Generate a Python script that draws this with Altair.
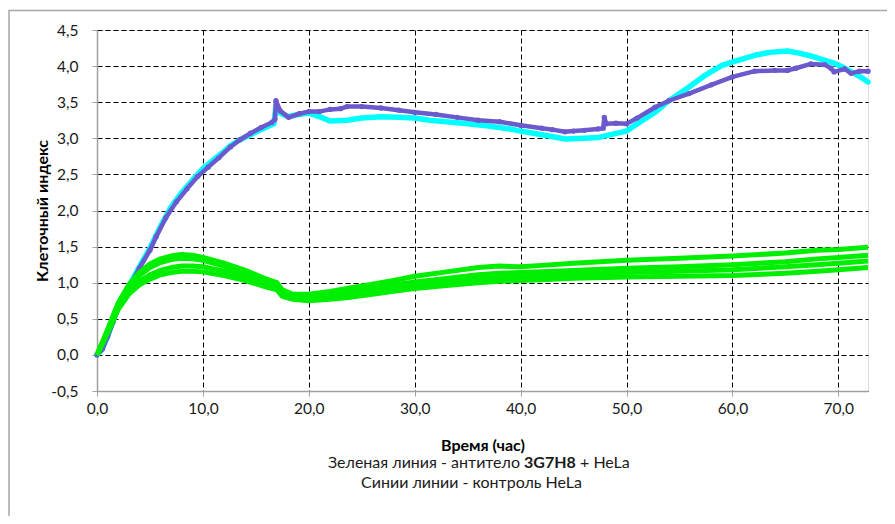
import altair as alt
import pandas as pd

# ---- data ----
purple_x = [0, 0.5, 1, 1.5, 2, 2.5, 3, 4, 5, 5.6, 6.5, 7.5, 8.5, 9.5, 10.5, 11.5, 12.6, 13.5, 14.5, 15.5,
            16.5, 16.8, 16.9, 17.3, 18.1, 19.1, 20, 21, 22, 23, 23.6, 25, 26.8, 28.5, 30, 32, 34, 36, 38, 40,
            42, 43, 44.2, 45, 46, 47.3, 47.8, 47.9, 48.1, 49, 50, 51, 52.7, 54, 55.9, 58, 60, 62.1, 64, 65.2,
            66, 67.4, 68.7, 69.3, 69.6, 70.6, 71.2, 72, 72.8]
purple_y = [0, 0.08, 0.25, 0.45, 0.65, 0.8, 0.93, 1.2, 1.45, 1.64, 1.9, 2.12, 2.3, 2.47, 2.6, 2.73, 2.88, 2.98, 3.07, 3.15,
            3.22, 3.26, 3.52, 3.38, 3.29, 3.34, 3.37, 3.37, 3.4, 3.41, 3.44, 3.44, 3.42, 3.39, 3.36, 3.33, 3.29, 3.25, 3.23, 3.18,
            3.14, 3.12, 3.09, 3.1, 3.11, 3.13, 3.14, 3.29, 3.2, 3.21, 3.2, 3.28, 3.43, 3.52, 3.62, 3.74, 3.85, 3.93, 3.94, 3.94,
            3.97, 4.03, 4.02, 3.97, 3.92, 3.96, 3.9, 3.93, 3.93]

cyan_x = [0, 0.5, 1, 1.5, 2, 2.5, 3, 4, 5, 6, 7, 8, 9, 10, 11, 12, 12.6, 13.5, 14.5, 15.5, 16.7, 16.9, 17.3,
          18, 19, 20, 21, 22, 23.6, 25, 26.8, 28.5, 30, 31.4, 33, 35, 37, 39, 40, 42, 44.2, 46, 47.3, 48.5, 50,
          51, 52.7, 54, 55.9, 57.5, 59, 60.5, 62.1, 63.5, 65.2, 66.3, 67.4, 68.5, 69.6, 70.5, 71.5, 72.3, 72.8]
cyan_y = [0, 0.08, 0.26, 0.46, 0.66, 0.82, 0.95, 1.22, 1.48, 1.78, 2.05, 2.25, 2.42, 2.58, 2.7, 2.82, 2.9, 2.98, 3.05, 3.12, 3.2, 3.45, 3.35,
          3.3, 3.33, 3.35, 3.3, 3.24, 3.25, 3.28, 3.3, 3.29, 3.28, 3.25, 3.23, 3.2, 3.17, 3.13, 3.1, 3.05, 2.99, 3.0, 3.01, 3.05, 3.1,
          3.2, 3.36, 3.52, 3.71, 3.88, 4.01, 4.08, 4.15, 4.19, 4.21, 4.18, 4.14, 4.09, 4.04, 3.98, 3.9, 3.83, 3.78]

green_x = [0, 1, 2, 3, 4, 5, 6, 7, 8, 9, 10, 12, 14, 16, 17, 17.5, 18.5, 20, 22, 24, 26, 28, 30, 33, 36, 38, 40,
           42, 45, 50, 55, 60, 65, 68, 70, 72.8]
green1_y = [0, 0.35, 0.72, 0.97, 1.14, 1.26, 1.33, 1.37, 1.39, 1.38, 1.35, 1.27, 1.17, 1.05, 1.0, 0.9, 0.84, 0.84, 0.88, 0.93, 0.98,
            1.03, 1.09, 1.15, 1.21, 1.23, 1.22, 1.24, 1.27, 1.31, 1.34, 1.37, 1.41, 1.45, 1.46, 1.49]
green2_y = [0, 0.34, 0.7, 0.94, 1.1, 1.21, 1.28, 1.32, 1.34, 1.33, 1.31, 1.23, 1.13, 1.02, 0.97, 0.87, 0.81, 0.8, 0.83, 0.87, 0.92,
            0.97, 1.01, 1.06, 1.11, 1.13, 1.14, 1.15, 1.17, 1.2, 1.22, 1.25, 1.29, 1.33, 1.35, 1.38]
green3_y = [0, 0.32, 0.66, 0.88, 1.02, 1.11, 1.17, 1.21, 1.23, 1.23, 1.22, 1.16, 1.08, 0.98, 0.93, 0.84, 0.79, 0.78, 0.8, 0.84, 0.88,
            0.92, 0.96, 1.01, 1.05, 1.07, 1.08, 1.09, 1.11, 1.14, 1.16, 1.18, 1.22, 1.25, 1.27, 1.3]
green4_y = [0, 0.3, 0.63, 0.84, 0.97, 1.05, 1.11, 1.14, 1.16, 1.16, 1.15, 1.1, 1.03, 0.94, 0.9, 0.81, 0.77, 0.75, 0.77, 0.8, 0.84,
            0.88, 0.92, 0.96, 1.0, 1.02, 1.03, 1.04, 1.06, 1.08, 1.09, 1.1, 1.13, 1.16, 1.18, 1.21]

x_ticks = [0, 10, 20, 30, 40, 50, 60, 70]
y_ticks = [-0.5, 0, 0.5, 1.0, 1.5, 2.0, 2.5, 3.0, 3.5, 4.0, 4.5]

x_title = "Время (час)"
y_title = "Клеточный индекс"
cap1_left = "Зеленая линия - антитело"
cap1_bold = "3G7H8"
cap1_right = "+ HeLa"
cap2 = "Синии линии - контроль HeLa"

FONT = "Lato"
FS = 16
LFS = 15.5
W, H = 771, 361


def frame(xs, ys, name):
    return pd.DataFrame({"t": xs, "ci": ys, "s": name, "i": range(len(xs))})


cyan_df = frame(cyan_x, cyan_y, "cyan")
purple_df = frame(purple_x, purple_y, "purple")
green_df = pd.concat([frame(green_x, g, f"g{k}") for k, g in
                      enumerate([green1_y, green2_y, green3_y, green4_y])])

xs = alt.Scale(domain=[0, 72.8], nice=False, zero=False)
ys = alt.Scale(domain=[-0.5, 4.5], nice=False, zero=False)

lab = "replace(replace(format(datum.value, '.1f'), '.', ','), '\u2212', '-')"

common = dict(grid=True, gridDash=[5, 3], gridColor="#000000", gridOpacity=1, gridWidth=1,
              domainColor="#a0a0a0", domainWidth=1.5, tickColor="#a0a0a0", tickSize=5,
              labelFont=FONT, labelFontSize=LFS, labelColor="#1a1a1a", labelFlush=False,
              labelOverlap=False, tickCount=20,
              titleFont=FONT, titleFontSize=FS, titleFontWeight="bold", titleColor="#000000")

x_enc = alt.X("t:Q", scale=xs, axis=alt.Axis(values=x_ticks, labelExpr=lab, title=x_title,
                                              labelPadding=5, titlePadding=21, **common))
y_enc = alt.Y("ci:Q", scale=ys, axis=alt.Axis(values=y_ticks, labelExpr=lab, title=y_title,
                                              labelPadding=14, titlePadding=0, **common))

cyan = alt.Chart(cyan_df).mark_line(color="#00ffff", strokeWidth=5.5, strokeJoin="round",
                                    strokeCap="round").encode(x=x_enc, y=y_enc, order="i:Q")
purple = alt.Chart(purple_df).mark_line(color="#6a5acd", strokeWidth=4.5, strokeJoin="round",
                                        strokeCap="round").encode(x="t:Q", y="ci:Q", order="i:Q")
purple_pts = alt.Chart(purple_df).mark_circle(color="#6a5acd", size=28, opacity=1).encode(x="t:Q", y="ci:Q")
green = alt.Chart(green_df).mark_line(color="#00ee00", strokeWidth=5, strokeJoin="round").encode(
    x="t:Q", y="ci:Q", detail="s:N", order="i:Q")

border = alt.Chart(pd.DataFrame({"a": [0]})).mark_rect(
    fill=None, stroke="#a6a6a6", strokeWidth=1.5, clip=False).encode(
    x=alt.value(-88), x2=alt.value(W + 200), y=alt.value(-19.5), y2=alt.value(H + 300))

txt = dict(font=FONT, fontSize=FS, color="#1a1a1a", clip=False, baseline="middle")
one = pd.DataFrame({"a": [0]})
c1a = alt.Chart(one).mark_text(text=cap1_left, align="right", **txt).encode(
    x=alt.value(423), y=alt.value(433))
c1b = alt.Chart(one).mark_text(text=cap1_bold, align="left", fontWeight="bold", **txt).encode(
    x=alt.value(427), y=alt.value(433))
c1c = alt.Chart(one).mark_text(text=cap1_right, align="left", **txt).encode(
    x=alt.value(483), y=alt.value(433))
c2 = alt.Chart(one).mark_text(text=cap2, align="center", **txt).encode(
    x=alt.value(374.5), y=alt.value(453))

chart = alt.layer(border, cyan, purple, purple_pts, green, c1a, c1b, c1c, c2).properties(
    width=W, height=H,
    autosize=alt.AutoSizeParams(type="none"),
    padding={"left": 89, "top": 22, "right": 19, "bottom": 125},
).configure_view(stroke=None).configure(background="#ffffff")

chart.save("out.html", embed_options={"renderer": "svg", "actions": False})
